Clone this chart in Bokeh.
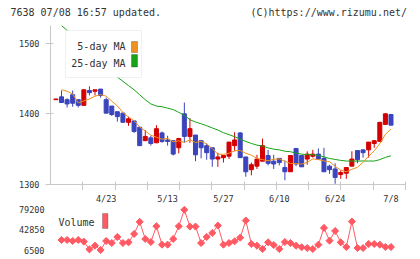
import numpy as np
from bokeh.plotting import figure
from bokeh.layouts import column
from bokeh.models import Range1d, FixedTicker, Label, BoxAnnotation, ColumnDataSource, Div
from bokeh.embed import file_html
from bokeh.resources import INLINE

# ---- data -------------------------------------------------------------
dates = ["4/10", "4/11", "4/14", "4/15", "4/16", "4/17", "4/18", "4/21", "4/22", "4/23",
         "4/24", "4/25", "4/28", "4/30", "5/1", "5/2", "5/7", "5/8", "5/9", "5/12",
         "5/13", "5/14", "5/15", "5/16", "5/19", "5/20", "5/21", "5/22", "5/23", "5/26",
         "5/27", "5/28", "5/29", "5/30", "6/2", "6/3", "6/4", "6/5", "6/6", "6/9",
         "6/10", "6/11", "6/12", "6/13", "6/16", "6/17", "6/18", "6/19", "6/20", "6/23",
         "6/24", "6/25", "6/26", "6/27", "6/30", "7/1", "7/2", "7/3", "7/4", "7/7", "7/8"]

open_ = [1420, 1424, 1420, 1427, 1420, 1412, 1433, 1432, 1435, 1420,
         1411, 1403, 1401, 1388, 1390, 1381, 1362, 1366, 1359, 1373,
         1363, 1362, 1352, 1400, 1368, 1370, 1362, 1355, 1352, 1336,
         1338, 1340, 1355, 1373, 1339, 1321, 1326, 1333, 1341, 1333,
         1337, 1324, 1318, 1351, 1341, 1336, 1340, 1343, 1337, 1326,
         1322, 1314, 1316, 1326, 1348, 1349, 1349, 1358, 1361, 1385, 1399]
high = [1421, 1433, 1422, 1433, 1420, 1435, 1439, 1434, 1435, 1423,
        1411, 1403, 1402, 1396, 1390, 1381, 1377, 1369, 1384, 1375,
        1369, 1362, 1366, 1416, 1394, 1370, 1362, 1358, 1352, 1345,
        1341, 1360, 1374, 1374, 1339, 1331, 1342, 1365, 1349, 1342,
        1337, 1334, 1341, 1351, 1341, 1347, 1349, 1351, 1352, 1328,
        1330, 1320, 1324, 1347, 1348, 1349, 1360, 1363, 1388, 1401, 1400]
low = [1420, 1416, 1409, 1410, 1409, 1412, 1426, 1426, 1423, 1401,
       1397, 1389, 1388, 1383, 1373, 1355, 1362, 1355, 1359, 1359,
       1355, 1341, 1344, 1359, 1359, 1333, 1337, 1335, 1325, 1325,
       1331, 1336, 1347, 1338, 1311, 1313, 1322, 1333, 1327, 1322,
       1327, 1306, 1318, 1326, 1325, 1328, 1338, 1335, 1318, 1315,
       1301, 1308, 1308, 1326, 1330, 1338, 1338, 1352, 1361, 1385, 1384]
close = [1421, 1416, 1414, 1415, 1412, 1434, 1430, 1434, 1426, 1401,
         1399, 1396, 1388, 1393, 1375, 1355, 1368, 1358, 1379, 1361,
         1361, 1343, 1365, 1368, 1379, 1342, 1352, 1345, 1336, 1339,
         1341, 1360, 1363, 1338, 1318, 1328, 1336, 1355, 1330, 1329,
         1331, 1318, 1341, 1329, 1325, 1343, 1343, 1336, 1318, 1321,
         1310, 1317, 1324, 1336, 1335, 1345, 1360, 1362, 1388, 1400, 1384]

# moving averages and volume start on the second session (4/11)
ma5 = [1434, 1432, 1428, 1415.6, 1418.2, 1421, 1425, 1427.2, 1425, 1418,
       1411.2, 1402, 1395.4, 1390.2, 1381.4, 1375.8, 1369.7, 1366.9, 1364.1, 1365.3,
       1360.4, 1361.8, 1359.6, 1363.2, 1359.4, 1361.2, 1357.3, 1350.9, 1342.9, 1342.7,
       1344.2, 1347.8, 1348.2, 1344.2, 1341.5, 1336.8, 1335.2, 1333.6, 1335.7, 1336.3,
       1332.8, 1329.8, 1329.6, 1328.9, 1331.3, 1336.2, 1335.3, 1333.2, 1332.3, 1325.7,
       1320.5, 1318, 1321.5, 1324.4, 1331.4, 1339.9, 1347.6, 1357.8, 1370.9, 1378.5]
ma25 = [1525, 1518, 1511, 1503, 1496, 1488, 1481, 1474, 1466, 1459,
        1452, 1446, 1440, 1434, 1427, 1420, 1414, 1411, 1410, 1408,
        1406, 1402, 1398, 1391.6, 1388.4, 1385.9, 1383.2, 1380, 1377.1, 1373.3,
        1370.5, 1367.7, 1364.2, 1360.9, 1358.1, 1355.7, 1354.4, 1351.8, 1350, 1349,
        1347.1, 1346.4, 1344.4, 1343, 1342.2, 1342.2, 1341.1, 1339.1, 1336.8, 1335.5,
        1334.1, 1333.2, 1333.2, 1333.1, 1333.3, 1333.2, 1333.2, 1335.2, 1338.4, 1340.6]
volume = [24700, 24700, 22900, 24700, 21700, 7700, 14400, 6500, 22900, 19200,
          30100, 19200, 20400, 35600, 57400, 26500, 21000, 49500, 16200, 16200,
          26500, 49500, 79200, 48900, 48900, 19200, 30100, 37400, 50700, 16200,
          19200, 22300, 28900, 59800, 17400, 14400, 8300, 20400, 15600, 8300,
          21000, 19200, 14400, 11400, 10100, 8300, 16200, 46500, 23500, 41000,
          20400, 12000, 58000, 10100, 10100, 17400, 17400, 16200, 12000, 12000]

tick_dates = ["4/23", "5/13", "5/27", "6/10", "6/24", "7/8"]
price_ticks = [1300, 1400, 1500]
volume_ticks = [6500, 42850, 79200]

# ---- style ------------------------------------------------------------
FONT = "DejaVu Sans Mono"
TEXT = "#333333"
AXIS = "#c8c8c8"
UP = "#d40000"
DOWN = "#3a44bc"
MA5_COLOR = "#f0901e"
MA25_COLOR = "#16a316"
VOL_COLOR = "#ff5a64"

W = 420
LEFT, RIGHT = 50, 15
FRAME_W = W - LEFT - RIGHT
HEADER_H = 25
MAIN_H = 165
MAIN_BOTTOM = 6
VOL_H = 69
VOL_TOP, VOL_BOTTOM = 15, 2

pos = np.arange(len(dates))
x_range = Range1d(-0.97, 62.6)
y_main = Range1d(1300, 1525)
y_vol = Range1d(-7000, 87000)


def x_at(px):
    """page x pixel -> position on the shared x range"""
    return x_range.start + (px - LEFT) * (x_range.end - x_range.start) / FRAME_W


def price_at(py):
    """page y pixel -> price on the main chart"""
    top = HEADER_H
    h = MAIN_H - MAIN_BOTTOM
    return y_main.end - (py - top) * (y_main.end - y_main.start) / h


def vol_at(py):
    """page y pixel -> volume on the lower chart"""
    top = HEADER_H + MAIN_H + VOL_TOP
    h = VOL_H - VOL_TOP - VOL_BOTTOM
    return y_vol.end - (py - top) * (y_vol.end - y_vol.start) / h


def bare(p):
    p.xgrid.visible = False
    p.ygrid.visible = False
    p.outline_line_color = None
    p.background_fill_color = "white"
    p.border_fill_color = "white"


# ---- header line ------------------------------------------------------
span_css = ("position:absolute;top:8px;font-family:'DejaVu Sans Mono',monospace;"
            "font-size:10px;line-height:10px;color:#333333;white-space:pre;")
head = Div(
    text=(f'<div style="position:relative;width:{W}px;height:{HEADER_H}px;">'
          f'<span style="{span_css}left:10.5px;">7638 07/08 16:57 updated.</span>'
          f'<span style="{span_css}right:13px;">(C)https://www.rizumu.net/</span></div>'),
    width=W, height=HEADER_H, margin=0,
)

# ---- price chart ------------------------------------------------------
main = figure(width=W, height=MAIN_H, x_range=x_range, y_range=y_main,
              toolbar_location=None, output_backend="svg",
              min_border_left=LEFT, min_border_right=RIGHT,
              min_border_top=0, min_border_bottom=MAIN_BOTTOM)
bare(main)

rising = [c >= o for o, c in zip(open_, close)]
candles = ColumnDataSource(dict(
    x=pos,
    top=np.maximum(open_, close),
    bottom=np.minimum(open_, close),
    high=high,
    low=low,
    color=[UP if r else DOWN for r in rising],
))
main.segment(x0="x", y0="low", x1="x", y1="high", line_color="color", line_width=1, source=candles)
main.vbar(x="x", width=0.72, top="top", bottom="bottom", fill_color="color",
          line_color="color", line_width=1, source=candles)

main.line(pos[1:], ma25, line_color=MA25_COLOR, line_width=1)
main.line(pos[1:], ma5, line_color=MA5_COLOR, line_width=1)

xa = main.xaxis[0]
xa.ticker = FixedTicker(ticks=[], minor_ticks=list(np.linspace(x_range.start, x_range.end - 1e-6, 12)[1:]))
xa.axis_line_color = AXIS
xa.major_tick_out = 0
xa.major_tick_in = 0
xa.minor_tick_out = 6
xa.minor_tick_in = 3
xa.minor_tick_line_color = AXIS
xa.major_label_standoff = 0
xa.major_label_text_font_size = "0px"

ya = main.yaxis[0]
ya.ticker = FixedTicker(ticks=price_ticks)
ya.axis_line_color = AXIS
ya.major_tick_line_color = AXIS
ya.major_tick_out = 5
ya.major_tick_in = 3
ya.major_label_standoff = 6
ya.major_label_text_font = FONT
ya.major_label_text_font_size = "8.5px"
ya.major_label_text_color = TEXT

# legend box
main.add_layout(BoxAnnotation(left=x_at(65), right=x_at(141), top=price_at(30), bottom=price_at(77),
                              fill_color="white", fill_alpha=1, line_color="#cccccc", line_width=1))
for label, color, ty, s_top, s_bot in [("5-day MA", MA5_COLOR, 46, 41, 52),
                                       ("25-day MA", MA25_COLOR, 63, 54, 66.5)]:
    main.add_layout(Label(x=x_at(125), y=price_at(ty), text=label, text_font=FONT,
                          text_font_size="10px", text_color=TEXT, text_align="right",
                          text_baseline="middle"))
    main.add_layout(BoxAnnotation(left=x_at(131), right=x_at(137), top=price_at(s_top),
                                  bottom=price_at(s_bot), fill_color=color, fill_alpha=1,
                                  line_color="#333333", line_width=1))

# ---- volume chart -----------------------------------------------------
vol = figure(width=W, height=VOL_H, x_range=x_range, y_range=y_vol,
             toolbar_location=None, output_backend="svg", x_axis_location="above",
             min_border_left=LEFT, min_border_right=RIGHT,
             min_border_top=VOL_TOP, min_border_bottom=VOL_BOTTOM)
bare(vol)
vol.line(pos[1:], volume, line_color=VOL_COLOR, line_width=1)
vol.scatter(pos[1:], volume, marker="square", angle=np.pi / 4, size=5,
            fill_color=VOL_COLOR, line_color=VOL_COLOR)

va = vol.xaxis[0]
date_ticks = [dates.index(d) for d in tick_dates]
va.ticker = FixedTicker(ticks=date_ticks)
va.major_label_overrides = {t: dates[t] for t in date_ticks}
va.axis_line_color = None
va.major_tick_line_color = None
va.minor_tick_line_color = None
va.major_tick_out = 0
va.major_tick_in = 0
va.major_label_standoff = 2
va.major_label_text_font = FONT
va.major_label_text_font_size = "8.5px"
va.major_label_text_color = TEXT

vy = vol.yaxis[0]
vy.ticker = FixedTicker(ticks=volume_ticks)
vy.major_label_overrides = {t: str(t) for t in volume_ticks}
vy.axis_line_color = None
vy.major_tick_line_color = None
vy.minor_tick_line_color = None
vy.major_tick_out = 0
vy.major_tick_in = 0
vy.major_label_standoff = 6
vy.major_label_text_font = FONT
vy.major_label_text_font_size = "8.5px"
vy.major_label_text_color = TEXT

vol.add_layout(Label(x=x_at(58), y=vol_at(222), text="Volume", text_font=FONT,
                     text_font_size="10px", text_color=TEXT, text_baseline="middle"))
vol.add_layout(BoxAnnotation(left=x_at(102), right=x_at(107.5), top=vol_at(213), bottom=vol_at(228),
                             fill_color=VOL_COLOR, fill_alpha=1, line_color="#444444", line_width=1))

layout = column(head, main, vol, spacing=0)
open("out.html", "w").write(file_html(layout, INLINE))
